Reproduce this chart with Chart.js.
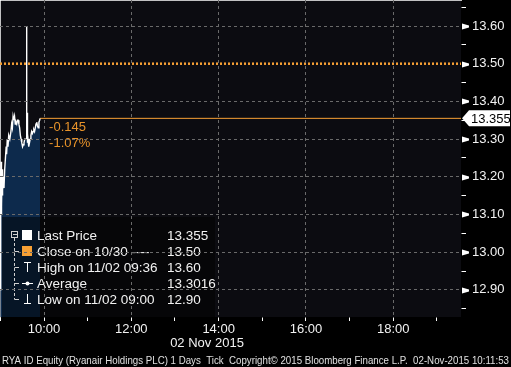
<!DOCTYPE html>
<html>
<head>
<meta charset="utf-8">
<script src="https://cdn.jsdelivr.net/npm/chart.js@4/dist/chart.umd.min.js"></script>
<style>
	html, body { margin: 0; padding: 0; background: #000; }
	canvas { display: block; }
</style>
</head>
<body>
<canvas id="chart" width="511" height="367"></canvas>
<script>
"use strict";

// intraday ticks, minutes after 09:00
const tickMinutes = [
	0, 0.3, 0.6, 0.9, 1.2, 1.6, 2.0, 2.4, 2.8, 3.3, 4.0, 5.0, 6.0, 7.0, 8.0, 8.6, 9.5, 10.5, 11.5, 13.0,
	14.5, 15.5, 16.5, 17.5, 18.5, 19.5, 20.5, 21.5, 22.5, 23.5, 24.5, 25.5, 26.5, 27.5, 28.5, 29.5, 30.5,
	31.5, 32.5, 33.5, 34.5, 35.5, 36.0, 36.4, 36.8, 37.3, 38.0, 39.0, 40.0, 41.0, 42.0, 43.0, 44.0, 45.0,
	46.0, 47.0, 48.0, 49.0, 50.0, 51.0, 52.0, 53.0, 54.0, 54.6,
];
const tickPrices = [
	12.9, 13.22, 13.12, 13.24, 13.1, 13.2, 13.12, 13.22, 13.15, 13.18, 13.2, 13.17, 13.22, 13.25, 13.28,
	13.26, 13.3, 13.28, 13.31, 13.3, 13.32, 13.34, 13.33, 13.36, 13.35, 13.36, 13.34, 13.345, 13.34, 13.35,
	13.35, 13.34, 13.33, 13.31, 13.3, 13.29, 13.28, 13.285, 13.29, 13.3, 13.3, 13.3, 13.6, 13.31, 13.37,
	13.29, 13.3, 13.28, 13.29, 13.3, 13.31, 13.32, 13.315, 13.32, 13.325, 13.32, 13.33, 13.34, 13.345,
	13.335, 13.33, 13.345, 13.35, 13.355,
];
const sessionStartHour = 9;
const closePrice = 13.5;
const lastPrice = 13.355;
const netChange = "-0.145";
const pctChange = "-1.07%";

const xMin = 8.992;
const xMax = 19.551;
const yMin = 12.828;
const yMax = 13.669;
const yStep = 0.05;
const xLabelHours = [10, 12, 14, 16, 18];

const legendLabels = ["Last Price", "Close on 10/30 ----", "High on 11/02 09:36", "Average", "Low on 11/02 09:00"];
const legendValues = ["13.355", "13.50", "13.60", "13.3016", "12.90"];
const dateLabel = "02 Nov 2015";
const footerText =
	"RYA ID Equity (Ryanair Holdings PLC) 1 Days  Tick  Copyright\u00a9 2015 Bloomberg Finance L.P.  02-Nov-2015 10:11:53";

const FONT = "'Liberation Sans', Arial, sans-serif";
const ORANGE = "#f7a035";
const ORANGE_TEXT = "#e8932a";
const GRID = "#6a6a6a";

const priceData = tickMinutes.map((m, i) => ({ x: sessionStartHour + m / 60, y: tickPrices[i] }));
const lastHour = priceData[priceData.length - 1].x;

const isMajor = (v) => Math.abs(v * 10 - Math.round(v * 10)) < 1e-6;

const bloombergDecor = {
	id: "bloombergDecor",
	beforeDraw(chart) {
		const { ctx, chartArea: a } = chart;
		ctx.save();
		ctx.fillStyle = "#000";
		ctx.fillRect(0, 0, chart.width, chart.height);
		ctx.fillStyle = "#0c0c11";
		ctx.fillRect(a.left, a.top, a.right - a.left, a.bottom - a.top);
		ctx.restore();
	},
	afterDatasetsDraw(chart) {
		const { ctx, scales } = chart;
		const y = scales.y;
		const x = scales.x;
		ctx.save();
		// change labels next to the last tick
		const lx = x.getPixelForValue(lastHour);
		const ly = y.getPixelForValue(lastPrice);
		ctx.font = "13px " + FONT;
		ctx.fillStyle = ORANGE_TEXT;
		ctx.textBaseline = "middle";
		ctx.fillText(netChange, lx + 9, ly + 9);
		ctx.fillText(pctChange, lx + 9, ly + 25);

		// legend box
		ctx.fillStyle = "rgba(0,0,0,0.5)";
		ctx.fillRect(2, 217, 213, chart.chartArea.bottom - 217);
		const rows = [235, 251, 267, 283, 299];
		ctx.strokeStyle = "#cfcfcf";
		ctx.lineWidth = 1;
		// tree
		ctx.strokeRect(11.5, 231.5, 6, 6);
		ctx.beginPath();
		ctx.moveTo(13, 234.5);
		ctx.lineTo(17, 234.5);
		ctx.stroke();
		ctx.setLineDash([3, 2]);
		ctx.beginPath();
		ctx.moveTo(14.5, 238);
		ctx.lineTo(14.5, rows[4] + 0.5);
		ctx.stroke();
		ctx.setLineDash([]);
		ctx.beginPath();
		for (let i = 1; i < rows.length; i++) {
			ctx.moveTo(14.5, rows[i] + 0.5);
			ctx.lineTo(19, rows[i] + 0.5);
		}
		ctx.stroke();
		ctx.fillStyle = "#fff";
		ctx.fillRect(22, rows[0] - 5, 10, 10);
		ctx.fillStyle = ORANGE;
		ctx.fillRect(22, rows[1] - 5, 10, 10);
		ctx.strokeStyle = "#fff";
		ctx.beginPath();
		ctx.moveTo(24, rows[2] - 4.5);
		ctx.lineTo(31, rows[2] - 4.5);
		ctx.moveTo(27.5, rows[2] - 4.5);
		ctx.lineTo(27.5, rows[2] + 5);
		ctx.moveTo(22, rows[3] + 0.5);
		ctx.lineTo(33, rows[3] + 0.5);
		ctx.moveTo(27.5, rows[4] - 5);
		ctx.lineTo(27.5, rows[4] + 4.5);
		ctx.moveTo(24, rows[4] + 4.5);
		ctx.lineTo(31, rows[4] + 4.5);
		ctx.stroke();
		ctx.fillStyle = "#fff";
		ctx.beginPath();
		ctx.arc(27.5, rows[3] + 0.5, 2, 0, Math.PI * 2);
		ctx.fill();
		ctx.font = "13.5px " + FONT;
		ctx.fillStyle = "#f2f2f2";
		legendLabels.forEach((t, i) => {
			ctx.fillText(t, 37, rows[i] + 1);
			ctx.fillText(legendValues[i], 167, rows[i] + 1);
		});
		ctx.restore();
	},
	afterDraw(chart) {
		const { ctx, chartArea: a, scales } = chart;
		const y = scales.y;
		ctx.save();
		// arrows on labelled price ticks
		ctx.fillStyle = "#fff";
		y.ticks.forEach((t) => {
			if (!isMajor(t.value)) return;
			const py = Math.round(y.getPixelForValue(t.value)) + 0.5;
			ctx.beginPath();
			ctx.moveTo(a.right + 1, py - 3);
			ctx.lineTo(a.right + 8, py - 1);
			ctx.lineTo(a.right + 8, py + 1);
			ctx.lineTo(a.right + 1, py + 3);
			ctx.closePath();
			ctx.fill();
		});
		// last price tag
		const ty = y.getPixelForValue(lastPrice);
		ctx.fillStyle = "#fff";
		ctx.beginPath();
		ctx.moveTo(a.right + 1, ty);
		ctx.lineTo(a.right + 8, ty - 8);
		ctx.lineTo(chart.width - 1, ty - 8);
		ctx.lineTo(chart.width - 1, ty + 8);
		ctx.lineTo(a.right + 8, ty + 8);
		ctx.closePath();
		ctx.fill();
		ctx.fillStyle = "#000";
		ctx.font = "13px " + FONT;
		ctx.textBaseline = "middle";
		ctx.fillText(lastPrice.toFixed(3), a.right + 10, ty + 1);

		// date and footer
		ctx.fillStyle = "#f2f2f2";
		ctx.textAlign = "center";
		ctx.fillText(dateLabel, 207, 343);
		ctx.font = "11px " + FONT;
		ctx.textAlign = "left";
		ctx.fillStyle = "#e0e0e0";
		ctx.fillText(footerText, 2, 361, 507);
		ctx.restore();
	},
};

Chart.defaults.font.family = FONT;

const chart = new Chart(document.querySelector("#chart").getContext("2d"), {
	type: "line",
	data: {
		datasets: [
			{
				label: "Last Price",
				data: priceData,
				borderColor: "#ffffff",
				borderWidth: 1.4,
				backgroundColor: "#0d2a4c",
				fill: "start",
				pointRadius: 0,
				tension: 0,
			},
			{
				label: "Last",
				data: [
					{ x: lastHour, y: lastPrice },
					{ x: xMax, y: lastPrice },
				],
				borderColor: ORANGE,
				borderWidth: 1,
				pointRadius: 0,
				fill: false,
			},
			{
				label: "Close",
				data: [
					{ x: xMin, y: closePrice },
					{ x: xMax, y: closePrice },
				],
				borderColor: ORANGE,
				borderWidth: 2.5,
				borderDash: [2, 2],
				pointRadius: 0,
				fill: false,
			},
		],
	},
	options: {
		responsive: false,
		animation: false,
		layout: { padding: 0 },
		plugins: { legend: { display: false }, tooltip: { enabled: false } },
		scales: {
			x: {
				type: "linear",
				position: "bottom",
				min: xMin,
				max: xMax,
				afterFit(scale) {
					scale.height = 50;
					scale.paddingLeft = 0;
					scale.paddingRight = 0;
				},
				border: { color: "#ffffff", width: 1.5, dash: [3, 3] },
				grid: {
					z: 1,
					color: (c) => (c.tick && xLabelHours.includes(c.tick.value) ? GRID : "rgba(0,0,0,0)"),
					tickColor: "#ffffff",
					tickLength: 4,
					tickBorderDash: [],
				},
				ticks: {
					stepSize: 1,
					includeBounds: false,
					autoSkip: false,
					maxRotation: 0,
					padding: 1,
					color: "#f2f2f2",
					font: { size: 13 },
					callback: (v) => (xLabelHours.includes(v) ? String(v).padStart(2, "0") + ":00" : ""),
				},
			},
			y: {
				type: "linear",
				position: "right",
				min: yMin,
				max: yMax,
				afterFit(scale) {
					scale.width = 50;
					scale.paddingTop = 0;
					scale.paddingBottom = 0;
				},
				border: { color: "#ffffff", width: 1.5, dash: [3, 3] },
				grid: {
					z: 1,
					color: (c) =>
						c.tick && isMajor(c.tick.value) && Math.abs(c.tick.value - closePrice) > 1e-6
							? GRID
							: "rgba(0,0,0,0)",
					tickColor: (c) => (c.tick && isMajor(c.tick.value) ? "rgba(0,0,0,0)" : "#ffffff"),
					tickLength: 5,
					tickBorderDash: [],
				},
				ticks: {
					stepSize: yStep,
					maxTicksLimit: 100,
					includeBounds: false,
					autoSkip: false,
					padding: 6,
					color: "#f2f2f2",
					font: { size: 13 },
					callback: (v) => (isMajor(v) ? v.toFixed(2) : ""),
				},
			},
		},
	},
	plugins: [bloombergDecor],
});
</script>
</body>
</html>
